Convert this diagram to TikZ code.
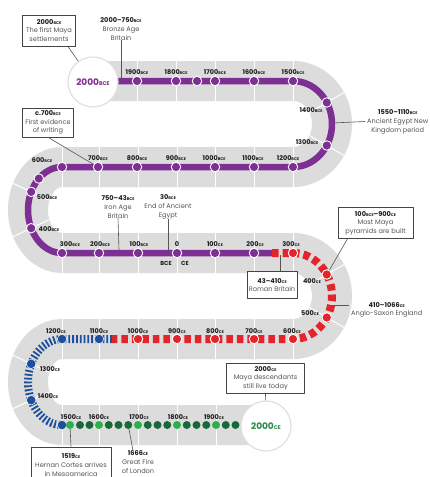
\documentclass[tikz,border=0pt]{standalone}
\usepackage{fontspec}
\setmainfont{Poppins}
\usetikzlibrary{calc}
\definecolor{band}{HTML}{DCDCDC}
\definecolor{mpurple}{HTML}{7E2F93}
\definecolor{mred}{HTML}{E3242B}
\definecolor{mblue}{HTML}{1D4F9A}
\definecolor{dgreen}{HTML}{17693A}
\definecolor{lgreen}{HTML}{2DB04B}
\definecolor{cgreen}{HTML}{2A8A47}
\definecolor{txt}{HTML}{1E1E1E}
\definecolor{desc}{HTML}{555555}
\definecolor{boxc}{HTML}{444444}
\definecolor{ptrc}{HTML}{555555}
\newcommand\yr[2]{#1{\fontsize{3.9}{4}\selectfont #2}}
\newcommand\yrb[2]{#1{\fontsize{5.4}{6}\selectfont #2}}
\newcommand\rsep[4]{\draw[sep] ({#1+(#3-20)*cos(#4)},{#2+23*sin(#4)}) -- ({#1+(#3+20)*cos(#4)},{#2+63*sin(#4)});}
\tikzset{
 sep/.style={white, line width=1pt},
 pm/.style={circle, fill=mpurple, draw=white, line width=0.9pt, inner sep=0pt, minimum size=9.5pt},
 rm/.style={pm, fill=mred},
 bm/.style={circle, fill=mblue, draw=white, line width=0.5pt, inner sep=0pt, minimum size=9.5pt},
 gd/.style={circle, fill=dgreen, inner sep=0pt, minimum size=8pt},
 gl/.style={circle, fill=lgreen, inner sep=0pt, minimum size=8pt},
 lab/.style={font=\fontsize{6.5}{7}\selectfont\bfseries, text=txt, inner sep=0pt},
 ev/.style={align=center, font=\fontsize{6.6}{8.6}\selectfont, text=desc, inner sep=0pt},
 evbox/.style={ev, draw=boxc, line width=0.6pt, fill=white},
 ptr/.style={draw=ptrc, line width=0.6pt},
 bigc/.style={circle, fill=white, draw=black!12, line width=1.2pt, minimum size=50pt, inner sep=0pt, font=\fontsize{9}{10}\selectfont\bfseries},
}
\begin{document}
\begin{tikzpicture}[x=1pt,y=-1pt,line join=round]
\useasboundingbox (0,0) rectangle (430,477);
\clip (0,0) rectangle (430,477);
\fill[white] (0,0) rectangle (430,477);

% grey band
\draw[band, line width=40pt] (93,81) -- (293,81) arc[start angle=-90,end angle=90,x radius=39,y radius=43]
  -- (62,167) arc[start angle=270,end angle=90,x radius=34,y radius=43]
  -- (293,253) arc[start angle=-90,end angle=90,x radius=39,y radius=43]
  -- (62,339) arc[start angle=270,end angle=90,x radius=34,y radius=43] -- (266,425);

% separators
\foreach \x in {137,176,215,254,293} \draw[sep] (\x,61) -- (\x,101);
\foreach \yy in {167,253,339} \foreach \x in {62,99,138,177,215,254,293} \draw[sep] (\x,\yy-20) -- (\x,\yy+20);
\foreach \x in {62,99,138,177,216} \draw[sep] (\x,405) -- (\x,445);
\rsep{293}{124}{39}{-30}\rsep{293}{124}{39}{30}
\rsep{293}{296}{39}{-30}\rsep{293}{296}{39}{30}
\rsep{62}{210}{34}{205}\rsep{62}{210}{34}{155}
\rsep{62}{382}{34}{205}\rsep{62}{382}{34}{155}

% coloured track
\draw[mpurple, line width=6.5pt] (118,81) -- (293,81) arc[start angle=-90,end angle=90,x radius=39,y radius=43]
  -- (62,167) arc[start angle=270,end angle=90,x radius=34,y radius=43] -- (272,253);
\draw[mred, line width=8pt, dash pattern=on 6.5pt off 4pt] (272,253) -- (293,253)
  arc[start angle=-90,end angle=90,x radius=39,y radius=43] -- (112,339);
\draw[mblue, line width=8pt, dash pattern=on 1.8pt off 2pt] (112,339) -- (62,339)
  arc[start angle=270,end angle=90,x radius=34,y radius=43];

% markers
\foreach \x/\n in {137/a1,176/a2,197/a3,215/a4,254/a5,293/a6} \node[pm] (\n) at (\x,81) {};
\node[pm] (m1400) at ({293+39*cos(-30)},{124+43*sin(-30)}) {};
\node[pm] (m1300) at ({293+39*cos(30)},{124+43*sin(30)}) {};
\foreach \x/\n in {293/b1,254/b2,215/b3,176/b4,137/b5,98/m700,62/b7} \node[pm] (\n) at (\x,167) {};
\node[pm] (mx) at ({62+34*cos(227)},{210+43*sin(227)}) {};
\node[pm] (m500) at ({62+34*cos(205)},{210+43*sin(205)}) {};
\node[pm] (m400) at ({62+34*cos(155)},{210+43*sin(155)}) {};
\foreach \x/\n in {62/c1,99/c2,138/c3,177/c4,215/c5,254/c6} \node[pm] (\n) at (\x,253) {};
\node[rm] (r300) at (293,253) {};
\node[rm] (r400) at ({293+39*cos(-30)},{296+43*sin(-30)}) {};
\node[rm] (r500) at ({293+39*cos(30)},{296+43*sin(30)}) {};
\foreach \x/\n in {293/r600,254/r700,215/r800,177/r900,138/r1000} \node[rm] (\n) at (\x,339) {};
\node[bm] (u1100) at (99,339) {};
\node[bm] (u1200) at (62,339) {};
\node[bm] (u1300) at ({62+34*cos(205)},{382+43*sin(205)}) {};
\node[bm] (u1400) at ({62+34*cos(155)},{382+43*sin(155)}) {};
\node[bm] (u1500) at (62,425) {};
\foreach \x [count=\i] in {80,89.5,108.75,118.5,147.75,157.5,167.25,186.75,196.5,206.25,225.75,235.5} \node[gd] (gd\i) at (\x,425) {};
\node[gd] (g1666) at (128.25,425) {};
\foreach \x/\n in {70/g1519,99/g1600,138/g1700,177/g1800,216/g1900} \node[gl] (\n) at (\x,425) {};

% track labels
\foreach \x/\n in {137/1900,176/1800,215/1700,254/1600,293/1500} \node[lab] (la\n) at (\x,72) {\yr{\n}{BCE}};
\node[lab] (l1400) at (311,110) {\yr{1400}{BCE}};
\node[lab] (l1300) at (307,142) {\yr{1300}{BCE}};
\foreach \x/\n in {98/700,137/800,176/900,214/1000,253/1100,288/1200} \node[lab] (lb\n) at (\x,158) {\yr{\n}{BCE}};
\node[lab] (l600) at (42,160) {\yr{600}{BCE}};
\node[lab] (l500) at (47,197) {\yr{500}{BCE}};
\node[lab] (l400) at (49,229) {\yr{400}{BCE}};
\foreach \x/\n in {70/300,100/200,139/100} \node[lab] (lc\n) at (\x,244) {\yr{\n}{BCE}};
\node[lab] (l0) at (177,244) {0};
\foreach \x/\n in {215/100,255/200,291/300} \node[lab] (ld\n) at (\x,244) {\yr{\n}{CE}};
\node[lab, font=\fontsize{5.8}{6}\selectfont\bfseries] (lbce) at (166,263) {BCE};
\node[lab, font=\fontsize{5.8}{6}\selectfont\bfseries] (lce) at (185,263) {CE};
\node[lab] (l400c) at (312,281) {\yr{400}{CE}};
\node[lab] (l500c) at (310,313) {\yr{500}{CE}};
\foreach \x/\n in {292/600,254/700,215/800,177/900,138/1000,99/1100,56/1200} \node[lab] (le\n) at (\x,331) {\yr{\n}{CE}};
\node[lab] (l1300c) at (50,369) {\yr{1300}{CE}};
\node[lab] (l1400c) at (48,396) {\yr{1400}{CE}};
\foreach \x/\n in {71/1500,99/1600,139/1700,178/1800,214/1900} \node[lab] (lf\n) at (\x,417) {\yr{\n}{CE}};

% big circles
\node[bigc, text=mpurple] (c2000b) at (93,82) {\yrb{2000}{BCE}};
\node[bigc, text=cgreen] (c2000c) at (266,426) {\yrb{2000}{CE}};

% events
\node[evbox, minimum width=53pt, minimum height=31pt] (e1) at (49,30.5) {\textbf{\textcolor{txt}{\yr{2000}{BCE}}}\\The first Maya\\settlements};
\draw[ptr] ([xshift=-8pt]e1.south east) -- (c2000b);

\node[ev] (e2) at (121,29) {\textbf{\textcolor{txt}{\yr{2000–750}{BCE}}}\\Bronze Age\\Britain};
\coordinate (p2) at (121,78);
\draw[ptr] (e2.south) -- (p2);

\node[ev, anchor=west] (e3) at (367,122) {\textbf{\textcolor{txt}{\yr{1550–1110}{BCE}}}\\Ancient Egypt New\\Kingdom period};
\coordinate (p3) at (332,123);
\draw[ptr] (p3) -- ([xshift=-2pt,yshift=0.5pt]e3.west);

\node[evbox, minimum width=51pt, minimum height=29pt] (e4) at (48,122.5) {\textbf{\textcolor{txt}{\yr{c.700}{BCE}}}\\First evidence\\of writing};
\draw[ptr] (e4.south) -- (m700);

\node[ev] (e5) at (118,207) {\textbf{\textcolor{txt}{\yr{750–43}{BCE}}}\\Iron Age\\Britain};
\coordinate (p5) at (119,250);
\draw[ptr] (e5.south) -- (p5);

\node[ev] (e6) at (168,207) {\textbf{\textcolor{txt}{\yr{30}{BCE}}}\\End of Ancient\\Egypt};
\coordinate (p6) at (168,250);
\draw[ptr] (e6.south) -- (p6);

\node[evbox, minimum width=75pt, minimum height=31pt] (e8) at (375.5,223) {\textbf{\textcolor{txt}{\yr{100}{BCE}–\yr{900}{CE}}}\\Most Maya\\pyramids are built};
\draw[ptr] ([xshift=-28pt]e8.south) -- (r400);

\node[evbox, minimum width=50pt, minimum height=27pt] (e9) at (272,285) {\textbf{\textcolor{txt}{\yr{43–410}{CE}}}\\Roman Britain};
\coordinate (p9) at (280,255);
\draw[ptr] ([xshift=8pt]e9.north) -- (p9);

\node[ev, anchor=west] (e10) at (351,310) {\textbf{\textcolor{txt}{\yr{410–1066}{CE}}}\\Anglo-Saxon England};
\coordinate (p10) at (331,305);
\coordinate (q10) at (349,305);
\draw[ptr] (p10) -- (q10);

\node[evbox, minimum width=78pt, minimum height=30pt] (e11) at (265.5,378) {\textbf{\textcolor{txt}{\yr{2000}{CE}}}\\Maya descendants\\still live today};
\draw[ptr] (e11.south) -- (c2000c);

\node[evbox, minimum width=80pt, minimum height=36pt] (e12) at (71,465) {\textbf{\textcolor{txt}{\yr{1519}{CE}}}\\Hernan Cortes arrives\\in Mesoamerica};
\draw[ptr] (g1519) -- (e12.north);

\node[ev] (e13) at (138,462) {\textbf{\textcolor{txt}{\yr{1666}{CE}}}\\Great Fire\\of London};
\draw[ptr] (g1666) -- ([xshift=-5pt]e13.north);
\end{tikzpicture}
\end{document}
